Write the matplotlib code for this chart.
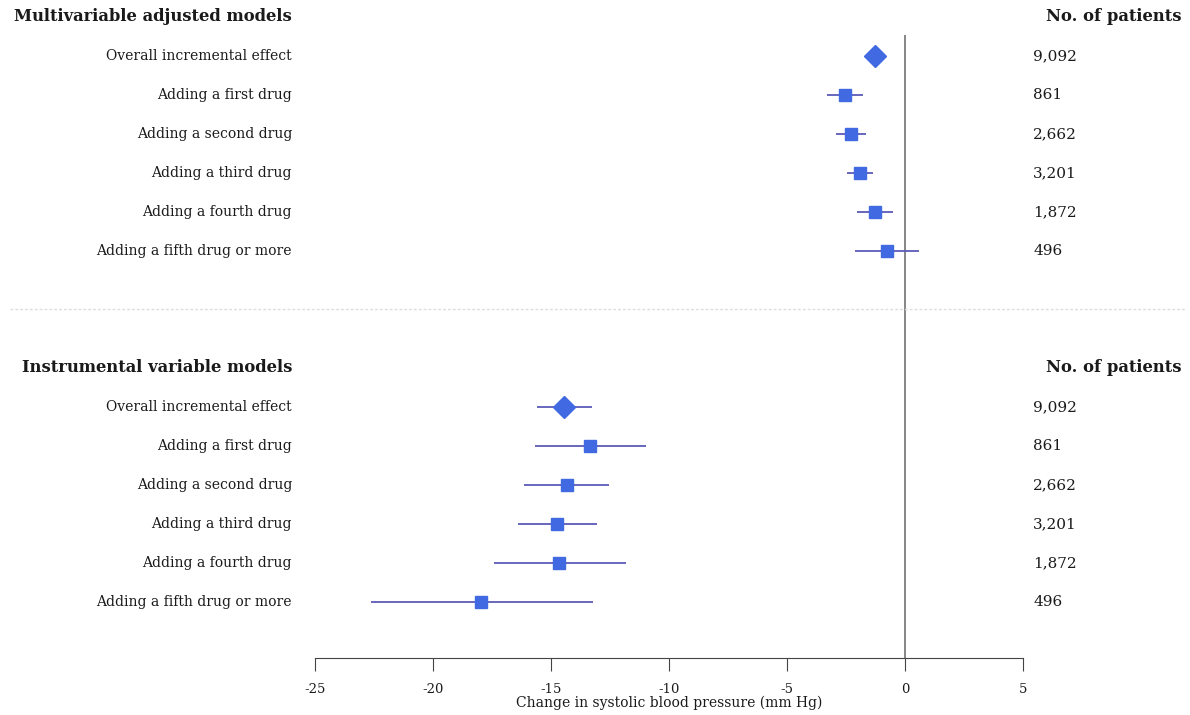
import matplotlib.pyplot as plt
from matplotlib.transforms import blended_transform_factory

# multivariable adjusted models
labels = ["Overall incremental effect", "Adding a first drug", "Adding a second drug",
          "Adding a third drug", "Adding a fourth drug", "Adding a fifth drug or more"]
patients = ["9,092", "861", "2,662", "3,201", "1,872", "496"]

mv_est = [-1.27, -2.54, -2.30, -1.92, -1.27, -0.76]
mv_lo = [-1.65, -3.31, -2.92, -2.44, -2.02, -2.12]
mv_hi = [-0.90, -1.76, -1.65, -1.37, -0.49, 0.61]

# instrumental variable models
iv_est = [-14.44, -13.36, -14.34, -14.73, -14.65, -17.95]
iv_lo = [-15.58, -15.69, -16.13, -16.41, -17.42, -22.64]
iv_hi = [-13.28, -10.97, -12.53, -13.04, -11.84, -13.23]

headers = ["Multivariable adjusted models", "Instrumental variable models"]
count_header = "No. of patients"

blue = "#4169e1"
ci_col = "#5a5ab8"
txt_col = "#1a1a1a"
plt.rcParams['font.family'] = ["DejaVu Serif"]
plt.rcParams['axes.unicode_minus'] = False

fig = plt.figure(figsize=(11.9, 7.15), dpi=100)
W, H = 1190, 715
ax = fig.add_axes([315 / W, (H - 658) / H, (1023 - 315) / W, 658 / H])
ax.set_xlim(-25, 5)
ax.set_ylim(16.44, -0.436)

tr = blended_transform_factory(fig.transFigure, ax.transData)

blocks = [(0, mv_est, mv_lo, mv_hi), (9, iv_est, iv_lo, iv_hi)]
for b, (y0, est, lo, hi) in enumerate(blocks):
    ax.text(292 / W, y0, headers[b], transform=tr, ha="right", va="center",
            fontsize=11.8, fontweight="bold", color=txt_col)
    ax.text(1182 / W, y0, count_header, transform=tr, ha="right", va="center",
            fontsize=11.8, fontweight="bold", color=txt_col)
    for i in range(len(labels)):
        y = y0 + 1 + i
        ax.hlines(y, lo[i], hi[i], color=ci_col, lw=1.3, zorder=2)
        mk = "D" if i == 0 else "s"
        ms = 11.5 if i == 0 else 9
        ax.plot(est[i], y, marker=mk, ms=ms, color=blue, mec=blue, zorder=3)
        ax.text(292 / W, y, labels[i], transform=tr, ha="right", va="center",
                fontsize=10, color=txt_col)
        ax.text(1033 / W, y, patients[i], transform=tr, ha="left", va="center",
                fontsize=11, color=txt_col)

# separator between the two model blocks
ax.plot([10 / W, 1185 / W], [7.49, 7.49], transform=tr, color="#dddddd", lw=1,
        ls=(0, (2, 1.5)), clip_on=False)

# reference line at zero
ax.vlines(0, 0.46, 16.44, color="#666666", lw=1.1, zorder=1)

for s in ["top", "left", "right"]:
    ax.spines[s].set_visible(False)
ax.spines["bottom"].set_color("#444444")
ax.set_yticks([])
ax.set_xticks(range(-25, 6, 5))
ax.tick_params(axis="x", length=9, color="#444444", labelsize=9.5, pad=9,
               labelcolor=txt_col)
ax.set_xlabel("Change in systolic blood pressure (mm Hg)", fontsize=10, labelpad=0,
              color=txt_col)

fig.savefig("out.png", dpi=100)
